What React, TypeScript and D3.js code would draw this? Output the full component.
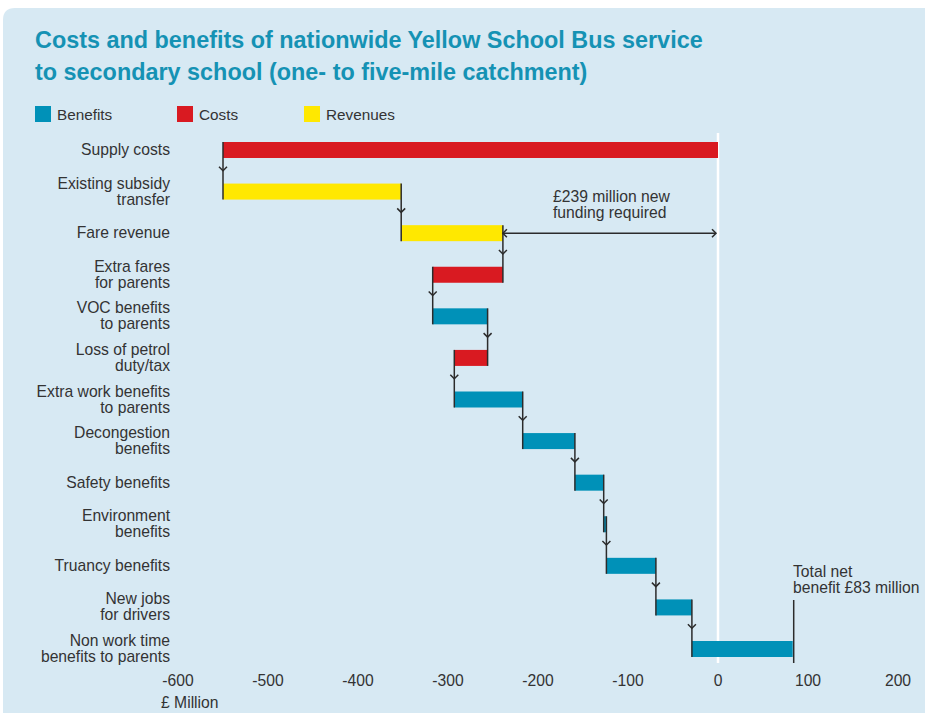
import React from "react";
import * as d3 from "d3";

const categories = [
  "Supply costs",
  "Existing subsidy\ntransfer",
  "Fare revenue",
  "Extra fares\nfor parents",
  "VOC benefits\nto parents",
  "Loss of petrol\nduty/tax",
  "Extra work benefits\nto parents",
  "Decongestion\nbenefits",
  "Safety benefits",
  "Environment\nbenefits",
  "Truancy benefits",
  "New jobs\nfor drivers",
  "Non work time\nbenefits to parents",
];
const deltas = [-550, 198, 113, -78, 61, -37, 76, 58, 32, 3, 55, 40, 112];
const types = [
  "Costs", "Revenues", "Revenues", "Costs", "Benefits", "Costs", "Benefits",
  "Benefits", "Benefits", "Benefits", "Benefits", "Benefits", "Benefits",
];
const legendItems = ["Benefits", "Costs", "Revenues"];
const tickValues = [-600, -500, -400, -300, -200, -100, 0, 100, 200];
const colors: Record<string, string> = {
  Benefits: "#0091b8",
  Costs: "#d91a21",
  Revenues: "#ffe800",
};

export default function App() {
  const W = 925, H = 718;
  const x = d3.scaleLinear().domain([-600, 200]).range([178, 898]);
  const y = d3.scalePoint<string>().domain(categories).range([150, 649]);
  const bh = 16;
  const cum: number[] = [0];
  deltas.forEach((d, i) => cum.push(cum[i] + d));
  const font = "'Liberation Sans', Arial, sans-serif";
  const textColor = "#333";
  const lineColor = "#2b2b2b";
  const fs = 15.7;

  const chevronDown = (cx: number, cy: number) =>
    `M${cx - 4},${cy - 4}L${cx},${cy}L${cx + 4},${cy - 4}`;

  return (
    <svg width={W} height={H} style={{ position: "absolute", left: 0, top: 0 }} fontFamily={font}>
      <rect x={0} y={0} width={W} height={H} fill="#fff" />
      <path d={`M3,${H - 5}V20Q3,8 15,8H${W}V${H - 5}Z`} fill="#d7e9f3" />
      <text x={35} y={48} fill="#1592b4" fontWeight="bold" fontSize={23.4}>
        Costs and benefits of nationwide Yellow School Bus service
      </text>
      <text x={35} y={80} fill="#1592b4" fontWeight="bold" fontSize={23.4}>
        to secondary school (one- to five-mile catchment)
      </text>
      {legendItems.map((l, i) => {
        const lx = [35, 177, 304][i];
        return (
          <g key={l}>
            <rect x={lx} y={106} width={16} height={16} fill={colors[l]} />
            <text x={lx + 22} y={119.5} fontSize={15.3} fill={textColor}>{l}</text>
          </g>
        );
      })}
      {/* zero line */}
      <line x1={x(0)} x2={x(0)} y1={133} y2={663} stroke="#fff" strokeWidth={2.5} />
      {/* bars */}
      {categories.map((c, i) => {
        const a = cum[i], b = cum[i + 1];
        const yc = y(c)!;
        return (
          <rect key={c} x={x(Math.min(a, b))} y={yc - bh / 2}
            width={Math.abs(x(b) - x(a))} height={bh} fill={colors[types[i]]} />
        );
      })}
      {/* connectors */}
      {categories.slice(0, -1).map((c, i) => {
        const cx = x(cum[i + 1]);
        const y0 = y(c)! - bh / 2;
        const y1 = y(categories[i + 1])! + bh / 2;
        const mid = (y(c)! + y(categories[i + 1])!) / 2;
        return (
          <g key={"c" + i} stroke={lineColor} fill="none" strokeWidth={1.5}>
            <line x1={cx} x2={cx} y1={y0} y2={y1} />
            <path d={chevronDown(cx, mid)} />
          </g>
        );
      })}
      {/* total line */}
      <line x1={x(cum[cum.length - 1]) + 1} x2={x(cum[cum.length - 1]) + 1} y1={600} y2={663}
        stroke={lineColor} strokeWidth={1.5} />
      <text fontSize={fs} fill={textColor}>
        <tspan x={793} y={577}>Total net</tspan>
        <tspan x={793} y={593}>benefit £83 million</tspan>
      </text>
      {/* funding annotation */}
      {(() => {
        const yy = y(categories[2])!;
        const x0 = x(cum[3]), x1 = x(0) - 2;
        return (
          <g stroke={lineColor} fill="none" strokeWidth={1.5}>
            <line x1={x0} x2={x1} y1={yy} y2={yy} />
            <path d={`M${x0 + 4},${yy - 4}L${x0},${yy}L${x0 + 4},${yy + 4}`} />
            <path d={`M${x1 - 4},${yy - 4}L${x1},${yy}L${x1 - 4},${yy + 4}`} />
          </g>
        );
      })()}
      <text fontSize={fs} fill={textColor}>
        <tspan x={553} y={202}>£239 million new</tspan>
        <tspan x={553} y={218}>funding required</tspan>
      </text>
      {/* category labels */}
      {categories.map((c) => {
        const lines = c.split("\n");
        const yc = y(c)!;
        return (
          <text key={"l" + c} textAnchor="end" fontSize={fs} fill={textColor}>
            {lines.map((ln, k) => (
              <tspan key={k} x={170} y={yc + 5 + (k - (lines.length - 1) / 2) * 16}>{ln}</tspan>
            ))}
          </text>
        );
      })}
      {/* axis ticks */}
      {tickValues.map((t) => (
        <text key={t} x={x(t)} y={686} textAnchor="middle" fontSize={fs} fill={textColor}>
          {t}
        </text>
      ))}
      <text x={161} y={708} fontSize={fs} fill={textColor}>£ Million</text>
    </svg>
  );
}
